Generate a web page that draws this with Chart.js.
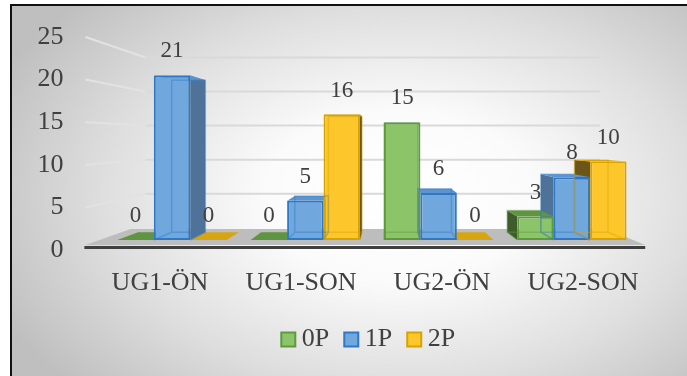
<!DOCTYPE html>
<html lang="tr">
<head>
<meta charset="UTF-8">
<title>UG1 / UG2 ön-son</title>
<script src="https://cdn.jsdelivr.net/npm/chart.js"></script>
<style>
  body { margin: 0; width: 687px; height: 376px; overflow: hidden; position: relative; background: #fff; }
  #frame {
    position: absolute; left: 10px; top: 4px; width: 690px; height: 380px;
    border: 2px solid #111;
    background: radial-gradient(ellipse 64% 74% at 56% 50%, #ffffff 0%, #fbfbfb 30%, #dfdfdf 66%, #bfbfbf 100%);
  }
  #box { position: absolute; left: 0; top: 0; width: 687px; height: 376px; }
</style>
</head>
<body>
<div id="frame"></div>
<div id="box"><canvas id="chart"></canvas></div>
<script>
  // groups and series
  const categories = ['UG1-ÖN', 'UG1-SON', 'UG2-ÖN', 'UG2-SON'];
  const seriesNames = ['0P', '1P', '2P'];
  const p0 = [0, 0, 15, 3];
  const p1 = [21, 5, 6, 8];
  const p2 = [0, 16, 0, 10];
  const yTicks = [0, 5, 10, 15, 20, 25];

  // colours: front, border, side, top
  const fronts = ['#8cc46a', '#70a7dc', '#fdc72c'];
  const borders = ['#5e9a3c', '#2f78c6', '#d6a300'];
  const sides = ['#3f5c2c', '#4f7299', '#6b5518'];
  const tops = ['#5f9440', '#5d94cf', '#d7a412'];

  const serif = "'Liberation Serif', 'Times New Roman', serif";
  const textColor = '#404040';

  function toward(p, vp, k) {
    return { x: p.x + k * (vp.x - p.x), y: p.y + k * (vp.y - p.y) };
  }

  function poly(ctx, pts, fill) {
    ctx.beginPath();
    ctx.moveTo(pts[0].x, pts[0].y);
    for (let i = 1; i < pts.length; i++) ctx.lineTo(pts[i].x, pts[i].y);
    ctx.closePath();
    ctx.fillStyle = fill;
    ctx.fill();
  }

  function vanish(chart) {
    const s = chart.scales;
    return { x: s.x.getPixelForValue(1.61), y: s.yt.getPixelForValue(13) };
  }

  function barBox(el) {
    const p = el.getProps(['x', 'y', 'base', 'width'], true);
    return { l: p.x - p.width / 2, r: p.x + p.width / 2, top: Math.min(p.y, p.base), base: Math.max(p.y, p.base), x: p.x };
  }

  // floor, back wall grid and the side/top faces of the bars
  const depth = {
    id: 'depth',
    beforeDatasetsDraw(chart) {
      const { ctx, chartArea: a, scales: s } = chart;
      const vp = vanish(chart);
      const fl = s.x.getPixelForValue(-0.65);
      const fr = s.x.getPixelForValue(3.55);
      const fy = s.y.getPixelForValue(-0.64);
      ctx.save();

      // wall gridlines
      yTicks.slice(1).forEach(v => {
        const front = { x: fl, y: s.yt.getPixelForValue(v) };
        const w = toward(front, vp, 0.2);
        const wr = toward({ x: a.right, y: front.y }, vp, 0.2);
        ctx.lineWidth = 2;
        ctx.strokeStyle = '#e2e2e2';
        ctx.beginPath(); ctx.moveTo(front.x, front.y); ctx.lineTo(w.x, w.y); ctx.stroke();
        ctx.strokeStyle = '#d9d9d9';
        ctx.beginPath(); ctx.moveTo(w.x, w.y); ctx.lineTo(wr.x, w.y); ctx.stroke();
      });

      // floor
      const fL = { x: fl, y: fy }, fR = { x: fr, y: fy };
      poly(ctx, [fL, fR, toward(fR, vp, 0.15), toward(fL, vp, 0.15)], '#bdbdbd');
      ctx.strokeStyle = '#3f3f3f';
      ctx.lineWidth = 3;
      ctx.beginPath(); ctx.moveTo(fl - 1, fy + 2.5); ctx.lineTo(fr, fy + 2.5); ctx.stroke();

      const k = 0.077;
      const metas = chart.data.datasets.map((d, i) => chart.getDatasetMeta(i));
      // side faces
      metas.forEach((m, i) => m.data.forEach(el => {
        const b = barBox(el);
        if (b.base - b.top < 0.5) return;
        const ex = b.x < vp.x ? b.r : b.l;
        const pts = [{ x: ex, y: b.top }, { x: ex, y: b.base }];
        poly(ctx, [pts[0], pts[1], toward(pts[1], vp, k), toward(pts[0], vp, k)], sides[i]);
      }));
      // top faces
      metas.forEach((m, i) => m.data.forEach(el => {
        const b = barBox(el);
        const L = { x: b.l, y: b.top }, R = { x: b.r, y: b.top };
        poly(ctx, [L, R, toward(R, vp, k), toward(L, vp, k)], tops[i]);
      }));
      ctx.restore();
    },
    afterDatasetsDraw(chart) {
      const { ctx } = chart;
      const vp = vanish(chart);
      const k = 0.077;
      const values = [p0, p1, p2];
      ctx.save();
      chart.data.datasets.forEach((d, i) => {
        chart.getDatasetMeta(i).data.forEach((el, j) => {
          const b = barBox(el);
          // back edges seen through the front face
          if (b.base - b.top > 0.5) {
            const c = [{ x: b.l, y: b.top }, { x: b.r, y: b.top }, { x: b.r, y: b.base }, { x: b.l, y: b.base }];
            const bk = c.map(p => toward(p, vp, k));
            ctx.strokeStyle = borders[i] + '66';
            ctx.lineWidth = 1.5;
            ctx.beginPath();
            ctx.moveTo(bk[0].x, bk[0].y);
            bk.slice(1).forEach(p => ctx.lineTo(p.x, p.y));
            ctx.closePath();
            ctx.moveTo(c[3].x, c[3].y); ctx.lineTo(bk[3].x, bk[3].y);
            ctx.moveTo(c[2].x, c[2].y); ctx.lineTo(bk[2].x, bk[2].y);
            ctx.stroke();
          }
          // value label
          ctx.fillStyle = textColor;
          ctx.font = '23px ' + serif;
          ctx.textAlign = 'center';
          ctx.textBaseline = 'middle';
          ctx.fillText(String(values[i][j]), b.x, b.top - 24);
        });
      });
      ctx.restore();
    }
  };

  const values = [p0, p1, p2];
  const datasets = seriesNames.map((name, i) => ({
    label: name,
    data: values[i].map((v, j) => ({ x: j, y: v })),
    backgroundColor: fronts[i],
    borderColor: borders[i],
    borderWidth: 2,
    borderSkipped: false,
    categoryPercentage: 0.82,
    barPercentage: 1
  }));

  new Chart(document.getElementById('chart'), {
    type: 'bar',
    data: { labels: categories, datasets: datasets },
    plugins: [depth],
    options: {
      responsive: true,
      maintainAspectRatio: false,
      animation: false,
      layout: { padding: { top: 37, right: 33.5, bottom: 13.5, left: 0 } },
      plugins: {
        legend: {
          position: 'bottom',
          fullSize: false,
          labels: {
            font: { family: serif, size: 26 }, color: textColor,
            usePointStyle: true, pointStyle: 'rect', boxWidth: 1, boxHeight: 14, padding: 21.5
          }
        },
        tooltip: { enabled: false }
      },
      scales: {
        x: {
          type: 'linear', display: false, min: -0.619, max: 3.612, offset: false,
          afterBuildTicks(s) { s.ticks = categories.map((c, i) => ({ value: i })); }
        },
        xl: {
          type: 'category', position: 'bottom', offset: true,
          grid: { display: false, drawTicks: false }, border: { display: false },
          ticks: { font: { family: serif, size: 26 }, color: textColor, padding: 18 },
          afterFit(s) { s.height = 55; }
        },
        y: { display: false, min: -1.28, max: 25.9 },
        yt: {
          position: 'left', min: 0, max: 25,
          grid: { display: false, drawTicks: false }, border: { display: false },
          ticks: { stepSize: 5, font: { family: serif, size: 26 }, color: textColor, padding: 26 },
          afterFit(s) {
            s.width = 89.5;
            s.paddingTop = 0;
            s.paddingBottom = 0;
          }
        }
      }
    }
  });
</script>
</body>
</html>
